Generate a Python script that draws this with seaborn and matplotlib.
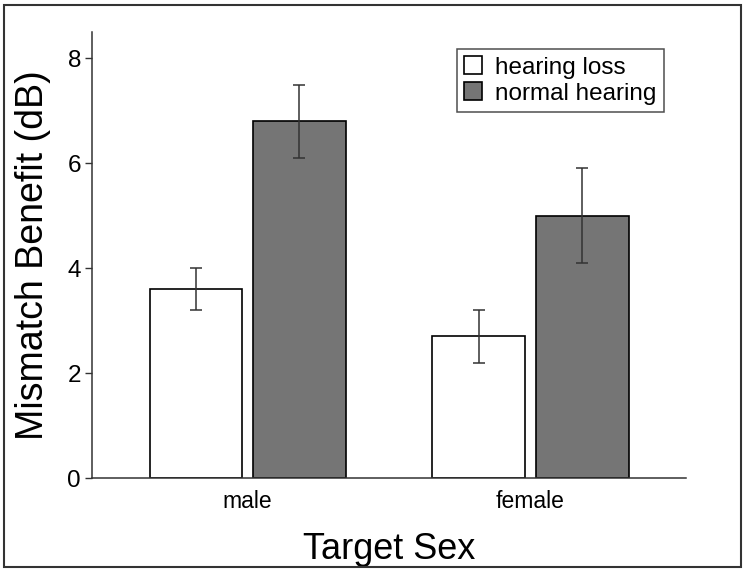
import pandas as pd
import seaborn as sns
import matplotlib.pyplot as plt
from matplotlib.patches import Rectangle

# data
sexes = ['male', 'female']
groups = ['hearing loss', 'normal hearing']
hearing_loss = [3.6, 2.7]
normal_hearing = [6.8, 5.0]
hearing_loss_err = [0.4, 0.5]
normal_hearing_err = [0.7, 0.9]

df = pd.DataFrame({
    'sex': sexes * 2,
    'group': [groups[0]] * 2 + [groups[1]] * 2,
    'benefit': hearing_loss + normal_hearing,
    'err': hearing_loss_err + normal_hearing_err,
})

sns.set_style('white')
plt.rcParams['font.family'] = ['Liberation Sans', 'DejaVu Sans']
plt.rcParams['text.color'] = 'black'
plt.rcParams['axes.labelcolor'] = 'black'
plt.rcParams['ytick.labelcolor'] = 'black'
plt.rcParams['xtick.labelcolor'] = 'black'

fig = plt.figure(figsize=(7.45, 5.72), dpi=100)
ax = fig.add_axes([0.1235, 0.1643, 0.7975, 0.7797])

sns.barplot(
    data=df, x='sex', y='benefit', hue='group',
    order=sexes, hue_order=groups,
    palette=['white', '#757575'], edgecolor='black', linewidth=1.2,
    width=0.73, gap=0.1, errorbar=None, ax=ax
)

# error bars placed at the bar centres seaborn computed
for cont, g in zip(ax.containers, groups):
    sub = df[df['group'] == g].set_index('sex').loc[sexes]
    xs = [p.get_x() + p.get_width() / 2 for p in cont.patches]
    ax.errorbar(xs, sub['benefit'], yerr=sub['err'], fmt='none',
                ecolor='#333333', elinewidth=1.1, capsize=4.5, capthick=1.1)

ax.set_ylim(0, 8.5)
ax.set_xlim(-0.55, 1.55)
ax.set_yticks([0, 2, 4, 6, 8])
ax.tick_params(axis='y', left=True, length=5, width=1, color='#333333',
               labelsize=17.5, pad=3)
ax.tick_params(axis='x', bottom=False, labelsize=16.5, pad=5)
for s in ['top', 'right']:
    ax.spines[s].set_visible(False)
for s in ['left', 'bottom']:
    ax.spines[s].set_color('#333333')
    ax.spines[s].set_linewidth(1.1)

ax.set_xlabel('Target Sex', fontsize=26, labelpad=14)
ax.set_ylabel('Mismatch Benefit (dB)', fontsize=27, labelpad=12)

leg = ax.legend(loc='upper right', bbox_to_anchor=(0.963, 0.962),
                fontsize=17.5, frameon=True, fancybox=False,
                handlelength=0.75, handleheight=0.75, handletextpad=0.55,
                borderpad=0.3, labelspacing=0.15, borderaxespad=0)
leg.get_frame().set_edgecolor('#222222')
leg.get_frame().set_linewidth(1.1)

# frame around the whole figure
fig.patches.append(Rectangle((0.006, 0.008), 0.988, 0.984, transform=fig.transFigure,
                             fill=False, edgecolor='#333333', linewidth=1.5))

fig.savefig('out.png', dpi=100)
